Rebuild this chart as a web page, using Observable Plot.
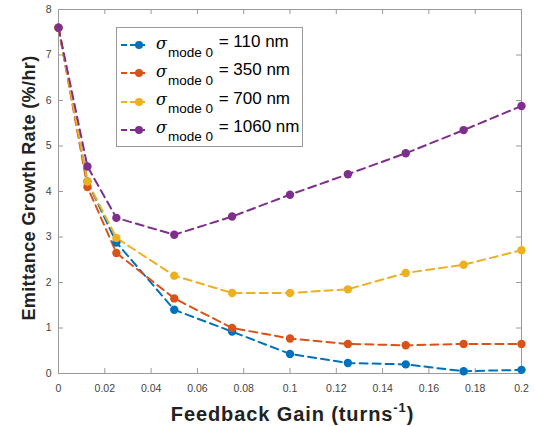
<!DOCTYPE html>
<html>
<head>
<meta charset="utf-8">
<script src="https://cdn.jsdelivr.net/npm/d3@7"></script>
<script src="https://cdn.jsdelivr.net/npm/@observablehq/plot@0.6"></script>
<style>
  body { margin: 0; background: #fff; font-family: "Liberation Sans", Arial, sans-serif; }
  #wrap { position: relative; width: 535px; height: 426px; }
  #legend { position: absolute; left: 116px; top: 27px; width: 187px; height: 120px; border: 1px solid #999; background: #fff; box-sizing: border-box; }
  .row { position: absolute; left: 0; height: 28px; display: flex; align-items: center; }
  .row svg { margin-left: 3px; }
  .sig { font-family: "DejaVu Serif", serif; font-style: italic; font-size: 16px; margin-left: 8px; color: #000; position: relative; top: -2px; }
  .sub { font-size: 13.5px; position: relative; top: 7px; margin-left: 1px; color: #000; }
  .val { font-size: 17px; color: #000; margin-left: 1px; position: relative; top: -3px; }
</style>
</head>
<body>
<div id="wrap"></div>
<script>
const gains = [0, 0.0125, 0.025, 0.05, 0.075, 0.1, 0.125, 0.15, 0.175, 0.2];
const seriesNames = ["110 nm", "350 nm", "700 nm", "1060 nm"];
const colors = ["#0072BD", "#D95319", "#EDB120", "#7E2F8E"];
const rate110 = [7.6, 4.22, 2.88, 1.40, 0.92, 0.43, 0.23, 0.20, 0.05, 0.08];
const rate350 = [7.6, 4.10, 2.65, 1.65, 1.00, 0.77, 0.65, 0.62, 0.65, 0.65];
const rate700 = [7.6, 4.22, 2.98, 2.15, 1.77, 1.77, 1.85, 2.21, 2.39, 2.71];
const rate1060 = [7.6, 4.55, 3.42, 3.05, 3.45, 3.93, 4.38, 4.84, 5.35, 5.88];
const xTicks = [0, 0.02, 0.04, 0.06, 0.08, 0.1, 0.12, 0.14, 0.16, 0.18, 0.2];
const yTicks = [0, 1, 2, 3, 4, 5, 6, 7, 8];

const allRates = [rate110, rate350, rate700, rate1060];
const data = [];
allRates.forEach((arr, s) => arr.forEach((v, i) => data.push({series: seriesNames[s], x: gains[i], y: v})));

const W = 535, H = 426, mL = 58, mR = 14, mT = 9, mB = 53;
const plotH = H - mT - mB, plotW = W - mL - mR;
const tickLen = 5;
const grey = "#9a9a9a";

const chart = Plot.plot({
  width: W, height: H,
  marginLeft: mL, marginRight: mR, marginTop: mT, marginBottom: mB,
  style: {fontFamily: "Liberation Sans, Arial, sans-serif", background: "#fff"},
  x: {domain: [0, 0.2]},
  y: {domain: [0, 8]},
  color: {domain: seriesNames, range: colors},
  marks: [
    Plot.frame({stroke: grey, strokeWidth: 1}),
    Plot.tickX(xTicks, {x: d => d, stroke: grey, insetTop: plotH - tickLen}),
    Plot.tickX(xTicks, {x: d => d, stroke: grey, insetBottom: plotH - tickLen}),
    Plot.tickY(yTicks, {y: d => d, stroke: grey, insetRight: plotW - tickLen}),
    Plot.tickY(yTicks, {y: d => d, stroke: grey, insetLeft: plotW - tickLen}),
    Plot.axisX(xTicks, {tickSize: 0, tickPadding: 11, fontSize: 10.5, fill: "#444", label: null,
      tickFormat: d => `${+d.toFixed(3)}`}),
    Plot.axisY(yTicks, {tickSize: 0, tickPadding: 7, fontSize: 10.5, fill: "#444", label: null}),
    Plot.line(data, {x: "x", y: "y", stroke: "series", z: "series", strokeWidth: 2, strokeDasharray: "8,5"}),
    Plot.dot(data, {x: "x", y: "y", fill: "series", r: 4.2, stroke: null}),
  ]
});

const svg = d3.select(chart);
svg.append("text")
  .attr("transform", `translate(35,${mT + plotH / 2 - 3}) rotate(-90)`)
  .attr("text-anchor", "middle")
  .attr("font-size", 18).attr("font-weight", "bold").attr("fill", "#222")
  .attr("letter-spacing", 0.4)
  .attr("font-family", "Liberation Sans, Arial, sans-serif")
  .text("Emittance Growth Rate (%/hr)");
const xl = svg.append("text")
  .attr("x", mL + plotW / 2 + 3).attr("y", 421)
  .attr("text-anchor", "middle")
  .attr("font-size", 20).attr("font-weight", "bold").attr("fill", "#222")
  .attr("letter-spacing", 0.9)
  .attr("font-family", "Liberation Sans, Arial, sans-serif");
xl.append("tspan").text("Feedback Gain (turns");
xl.append("tspan").attr("font-size", 13).attr("dy", -9).text("-1");
xl.append("tspan").attr("dy", 9).text(")");

const wrap = document.getElementById("wrap");
wrap.appendChild(chart);

const legend = document.createElement("div");
legend.id = "legend";
seriesNames.forEach((name, i) => {
  const row = document.createElement("div");
  row.className = "row";
  row.style.top = (3 + i * 28.3) + "px";
  row.innerHTML =
    `<svg width="28" height="10"><line x1="1" y1="5" x2="27" y2="5" stroke="${colors[i]}" stroke-width="2" stroke-dasharray="6,3"/><circle cx="19" cy="5" r="4" fill="${colors[i]}"/></svg>` +
    `<span class="sig">σ</span><span class="sub">mode 0</span><span class="val">&nbsp;= ${name}</span>`;
  legend.appendChild(row);
});
wrap.appendChild(legend);
</script>
</body>
</html>
